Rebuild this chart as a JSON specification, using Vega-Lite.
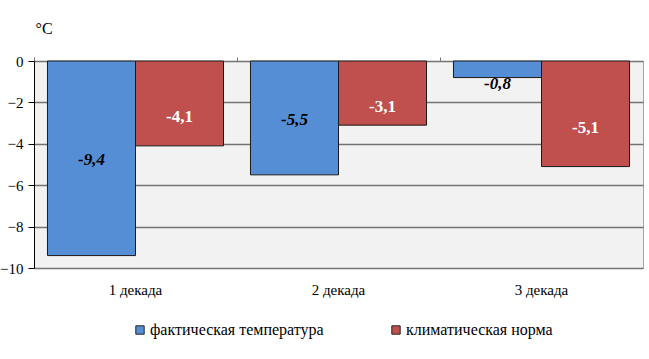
{
  "$schema": "https://vega.github.io/schema/vega-lite/v6.json",
  "width": 609,
  "height": 207,
  "autosize": "none",
  "padding": {"left": 34, "top": 61, "right": 6, "bottom": 91},
  "background": "white",
  "config": {
    "view": {"fill": "#F2F2F2", "stroke": "#A6A6A6", "strokeWidth": 1},
    "font": "Liberation Serif",
    "axis": {"labelFont": "Liberation Serif", "titleFont": "Liberation Serif"},
    "legend": {"labelFont": "Liberation Serif", "titleFont": "Liberation Serif"},
    "text": {"font": "Liberation Serif"}
  },
  "data": {
    "values": [
      {"decade": "1 декада", "series": "фактическая температура", "value": -9.4, "label": "-9,4"},
      {"decade": "1 декада", "series": "климатическая норма", "value": -4.1, "label": "-4,1"},
      {"decade": "2 декада", "series": "фактическая температура", "value": -5.5, "label": "-5,5"},
      {"decade": "2 декада", "series": "климатическая норма", "value": -3.1, "label": "-3,1"},
      {"decade": "3 декада", "series": "фактическая температура", "value": -0.8, "label": "-0,8"},
      {"decade": "3 декада", "series": "климатическая норма", "value": -5.1, "label": "-5,1"}
    ]
  },
  "encoding": {
    "x": {"field": "decade", "type": "nominal", "sort": null, "axis": null,
      "scale": {"paddingInner": 0, "paddingOuter": 0}},
    "xOffset": {"field": "series", "type": "nominal", "sort": ["фактическая температура", "климатическая норма"],
      "scale": {"paddingInner": 0, "paddingOuter": 0.153}}
  },
  "layer": [
    {
      "mark": {"type": "bar", "stroke": "#1a1a1a", "strokeWidth": 1},
      "encoding": {
        "x": {"field": "decade", "type": "nominal", "sort": null,
          "axis": {"orient": "bottom", "title": null, "labelAngle": 0, "domain": false, "ticks": false,
            "labelFont": "Liberation Serif", "labelFontSize": 15, "labelColor": "#000", "labelPadding": 14}},
        "y": {"field": "value", "type": "quantitative",
          "scale": {"domain": [-10, 0], "nice": false},
          "axis": {"values": [0, -2, -4, -6, -8, -10], "title": "°C", "titleAngle": 0,
            "titleX": 1, "titleY": -33, "titleAlign": "left", "titleBaseline": "middle",
            "titleFont": "Liberation Serif", "titleFontSize": 16, "titleFontWeight": "normal", "titleColor": "#000",
            "labelFont": "Liberation Serif", "labelFontSize": 15, "labelColor": "#000", "labelPadding": 5,
            "domainColor": "#000", "tickColor": "#000", "tickSize": 6,
            "grid": true, "gridColor": "#737373", "gridWidth": 1.3}},
        "fill": {"field": "series", "type": "nominal",
          "sort": ["фактическая температура", "климатическая норма"],
          "scale": {"domain": ["фактическая температура", "климатическая норма"], "range": ["#558ED5", "#C0504D"]},
          "legend": {"title": null, "orient": "none", "legendX": 98, "legendY": 261, "direction": "horizontal",
            "symbolType": "square", "symbolSize": 70, "symbolStrokeColor": "#222", "symbolStrokeWidth": 1,
            "labelFont": "Liberation Serif", "labelFontSize": 16, "labelColor": "#000", "labelLimit": 300,
            "columnPadding": 64, "labelOffset": 2}}
      }
    },
    {
      "mark": {"type": "tick", "orient": "vertical", "opacity": 0},
      "encoding": {
        "x": {"field": "decade", "type": "nominal", "sort": null,
          "axis": {"orient": "top", "title": null, "labels": false, "domain": false, "ticks": true,
            "bandPosition": 0, "tickColor": "#777", "tickSize": 4}},
        "y": {"field": "value", "type": "quantitative"}
      }
    },
    {
      "transform": [
        {"filter": "datum.series == 'фактическая температура'"},
        {"calculate": "datum.value > -1.5 ? datum.value - 0.2 : datum.value / 2", "as": "pos"}
      ],
      "mark": {"type": "text", "font": "Liberation Serif", "fontSize": 17, "fontWeight": "bold", "fontStyle": "italic",
        "color": "#000", "baseline": "middle", "dy": 2},
      "encoding": {
        "y": {"field": "pos", "type": "quantitative"},
        "text": {"field": "label"}
      }
    },
    {
      "transform": [
        {"filter": "datum.series == 'климатическая норма'"},
        {"calculate": "datum.value / 2", "as": "pos"}
      ],
      "mark": {"type": "text", "font": "Liberation Serif", "fontSize": 17, "fontWeight": "bold",
        "color": "#FFFFFF", "baseline": "middle", "dy": 14},
      "encoding": {
        "y": {"field": "pos", "type": "quantitative"},
        "text": {"field": "label"}
      }
    }
  ],
  "resolve": {"axis": {"x": "independent"}}
}
